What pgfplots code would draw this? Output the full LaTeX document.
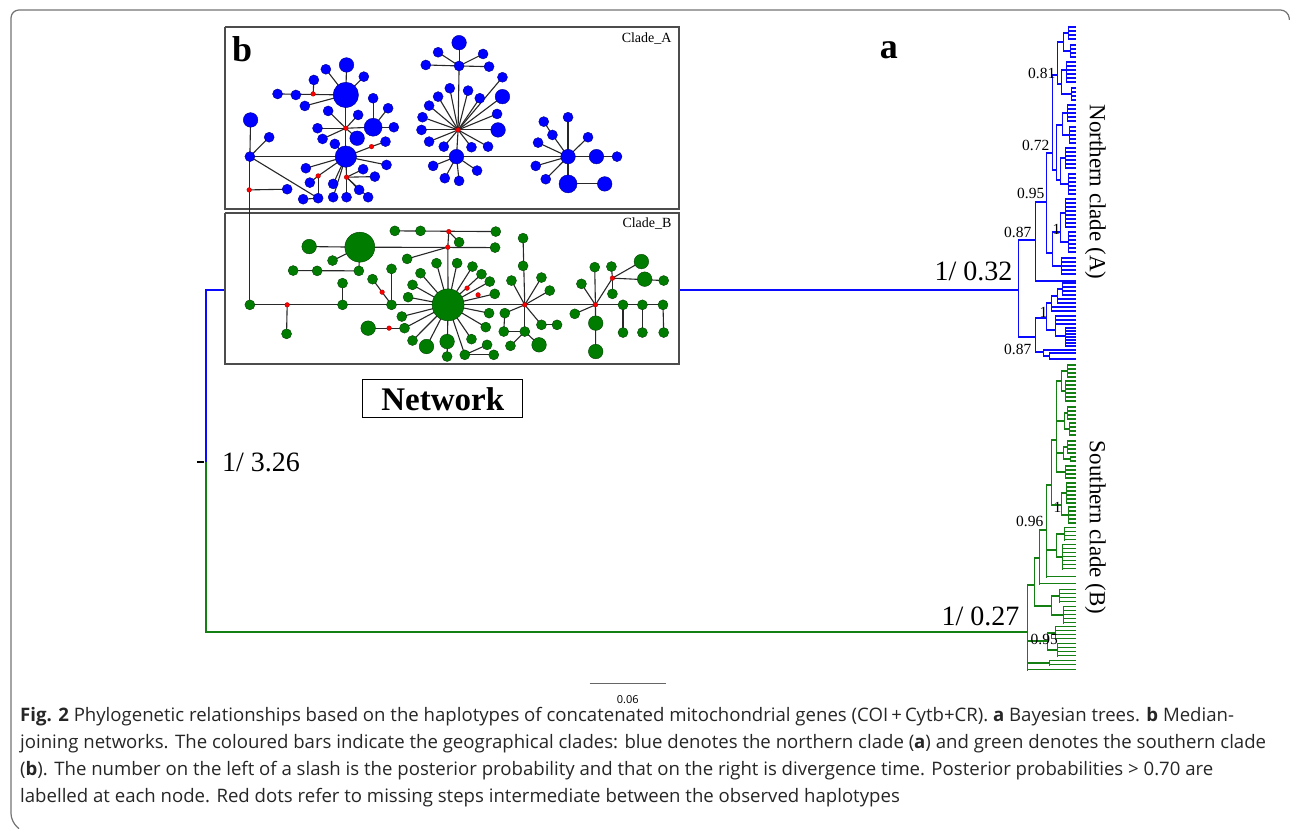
\documentclass[border=0pt]{standalone}
\usepackage{pgfplots}
\pgfplotsset{compat=1.18}
\usepackage{fontspec}
\setmainfont{Liberation Serif}
\newfontfamily\capfont{Open Sans}
\definecolor{tblue}{RGB}{10,10,255}
\definecolor{tgreen}{RGB}{20,128,20}
\definecolor{nblue}{RGB}{0,0,255}
\definecolor{ngreen}{RGB}{0,125,0}
\definecolor{edge}{RGB}{40,40,40}
\pgfplotsset{
 hseg/.style={no markers, quiver={u=\thisrow{x2}-\thisrow{x1}, v=0}},
 vseg/.style={no markers, quiver={u=0, v=\thisrow{y1}-\thisrow{y2}}},
 tseg/.style={no markers, quiver={u=1076-\thisrow{x}, v=0}},
 eseg/.style={no markers, quiver={u=\thisrow{x2}-\thisrow{x1}, v=\thisrow{y1}-\thisrow{y2}}},
 netnode/.style 2 args={scatter, only marks, mark=*,
   scatter/use mapped color={draw=#1, fill=#2},
   visualization depends on={\thisrow{r}\as\rad},
   scatter/@pre marker code/.append style={/tikz/mark size=\rad}},
}
\begin{document}
\begin{tikzpicture}
\begin{axis}[width=1290pt, height=829pt, scale only axis, xmin=0, xmax=1290, ymin=-829, ymax=0, hide axis, clip=false]
\addplot[draw=none] coordinates {(0,0) (1290,-829)};
% outer frame
\addplot[black!55, line width=1.2, rounded corners=8pt] coordinates {(19,-829) (11,-822) (11,-10) (1289,-10) (1290,-20)};
% stems
\addplot[tblue, line width=2] coordinates {(1019,-290) (206,-290) (206,-462)};
\addplot[tgreen, line width=2] coordinates {(206,-462) (206,-632) (1028,-632)};
\addplot[black, line width=1.5] coordinates {(197,-462) (204,-462)};
% ---------- clade A ----------
\addplot[tblue, line width=1.8, line cap=rect, vseg] table[x=x, y expr=-\thisrow{y1}] {
x y1 y2
1019 240 337
1036 202 281
1047 153 253
1053 75 170
1058 42 84
1064 33 51
1069 27 39
1071 45 57
1062 70 94
1067 62 82
1072 88 100
1057 125 180
1063 113 135
1068 105 121
1070 127 143
1061 158 184
1066 148 168
1069 174 194
1053 232 266
1061 213 242
1066 199 227
1069 232 252
1062 258 274
1036 318 352
1047 303 330
1052 296 311
1058 289 303
1063 283 295
1056 316 336
1066 328 346
1044 350 356
1050 353 359
};
\addplot[tblue, line width=1.8, line cap=rect, hseg] table[x=x1, y expr=-\thisrow{y}] {
y x1 x2
240 1019 1036
202 1036 1047
153 1047 1053
75 1053 1058
42 1058 1064
33 1064 1069
51 1064 1071
84 1058 1062
70 1062 1067
94 1062 1072
170 1053 1057
125 1057 1063
113 1063 1068
135 1063 1070
180 1057 1061
158 1061 1066
184 1061 1069
253 1047 1053
232 1053 1061
213 1061 1066
242 1061 1069
266 1053 1062
337 1019 1036
318 1036 1047
303 1047 1052
296 1052 1058
289 1058 1063
330 1047 1056
336 1056 1066
352 1036 1044
356 1044 1050
};
\addplot[tblue, line width=1.5, tseg] table[x=x, y expr=-\thisrow{y}] {
y x
27 1069
31 1069
35 1069
39 1069
45 1071
49 1071
53 1071
57 1071
62 1067
66 1067
70 1067
74 1067
78 1067
82 1067
88 1072
92 1072
96 1072
100 1072
105 1068
109 1068
113 1068
117 1068
121 1068
127 1070
131 1070
135 1070
139 1070
143 1070
148 1066
152 1066
156 1066
160 1066
164 1066
168 1066
174 1069
178 1069
182 1069
186 1069
190 1069
194 1069
199 1066
203 1066
207 1066
211 1066
215 1066
219 1066
223 1066
227 1066
232 1069
236 1069
240 1069
244 1069
248 1069
252 1069
258 1062
262 1062
266 1062
270 1062
274 1062
281 1036
283 1063
287 1063
291 1063
295 1063
299 1058
303 1058
307 1052
311 1052
316 1056
320 1056
324 1056
328 1066
331 1066
334 1066
337 1066
340 1066
343 1066
346 1066
350 1044
353 1050
359 1050
};
% ---------- clade B ----------
\addplot[tgreen, line width=1.8, line cap=rect, vseg] table[x=x, y expr=-\thisrow{y1}] {
x y1 y2
1068 365 377
1066 381 401
1062 371 391
1068 407 419
1070 423 435
1065 413 429
1068 441 453
1071 457 461
1064 447 459
1066 466 478
1057 381 472
1067 483 503
1069 507 523
1062 493 515
1052 440 505
1065 528 540
1063 545 569
1057 534 557
1047 485 577
1040 530 584
1060 590 602
1064 607 623
1052 596 615
1035 558 606
1056 627 639
1058 644 656
1048 633 650
1050 661 665
1028 585 670
};
\addplot[tgreen, line width=1.8, line cap=rect, hseg] table[x=x1, y expr=-\thisrow{y}] {
y x1 x2
371 1062 1068
391 1062 1066
381 1057 1062
413 1065 1068
429 1065 1070
421 1057 1065
447 1064 1068
459 1064 1071
453 1057 1064
472 1057 1066
440 1052 1057
493 1062 1067
515 1062 1069
505 1052 1062
485 1047 1052
534 1057 1065
557 1057 1063
550 1047 1057
530 1040 1047
558 1035 1040
596 1052 1060
615 1052 1064
606 1035 1052
585 1028 1035
633 1048 1056
650 1048 1058
641 1028 1048
663 1028 1050
};
\addplot[tgreen, line width=1.5, tseg] table[x=x, y expr=-\thisrow{y}] {
y x
365 1068
369 1068
373 1068
377 1068
381 1066
385 1066
389 1066
393 1066
397 1066
401 1066
407 1068
411 1068
415 1068
419 1068
423 1070
427 1070
431 1070
435 1070
441 1068
445 1068
449 1068
453 1068
457 1071
461 1071
466 1066
470 1066
474 1066
478 1066
483 1067
487 1067
491 1067
495 1067
499 1067
503 1067
507 1069
511 1069
515 1069
519 1069
523 1069
528 1065
532 1065
536 1065
540 1065
545 1063
549 1063
553 1063
557 1063
561 1063
565 1063
569 1063
577 1047
584 1040
590 1060
594 1060
598 1060
602 1060
607 1064
611 1064
615 1064
619 1064
623 1064
627 1056
631 1056
635 1056
639 1056
644 1058
648 1058
652 1058
656 1058
661 1050
665 1050
670 1028
};
% tree labels
\node[anchor=base east, inner sep=0, font=\fontsize{15.5}{16}\selectfont] at (axis cs:1032,-238) {0.87};
\node[anchor=base east, inner sep=0, font=\fontsize{15.5}{16}\selectfont] at (axis cs:1045,-199) {0.95};
\node[anchor=base east, inner sep=0, font=\fontsize{15.5}{16}\selectfont] at (axis cs:1050,-151) {0.72};
\node[anchor=base east, inner sep=0, font=\fontsize{15.5}{16}\selectfont] at (axis cs:1056,-79) {0.81};
\node[anchor=base east, inner sep=0, font=\fontsize{15.5}{16}\selectfont] at (axis cs:1061,-235) {1};
\node[anchor=base east, inner sep=0, font=\fontsize{15.5}{16}\selectfont] at (axis cs:1032,-355) {0.87};
\node[anchor=base east, inner sep=0, font=\fontsize{15.5}{16}\selectfont] at (axis cs:1048,-318) {1};
\node[anchor=base east, inner sep=0, font=\fontsize{15.5}{16}\selectfont] at (axis cs:1044,-527) {0.96};
\node[anchor=base east, inner sep=0, font=\fontsize{15.5}{16}\selectfont] at (axis cs:1062,-513) {1};
\node[anchor=base west, inner sep=0, font=\fontsize{15.5}{16}\selectfont] at (axis cs:1031,-645) {0.95};
\node[anchor=base west, inner sep=0, font=\fontsize{28}{30}\selectfont] at (axis cs:222,-472) {1/ 3.26};
\node[anchor=base east, inner sep=0, font=\fontsize{28}{30}\selectfont] at (axis cs:1013,-281) {1/ 0.32};
\node[anchor=base east, inner sep=0, font=\fontsize{28}{30}\selectfont] at (axis cs:1020,-626) {1/ 0.27};
\node[anchor=base west, inner sep=0, font=\fontsize{36}{38}\selectfont\bfseries] at (axis cs:880,-59) {a};
\node[rotate=-90, inner sep=0, font=\fontsize{23}{25}\selectfont] at (axis cs:1096,-192) {Northern clade (A)};
\node[rotate=-90, inner sep=0, font=\fontsize{23}{25}\selectfont] at (axis cs:1096,-528) {Southern clade (B)};
% ---------- network boxes ----------
\addplot[fill=white, draw=black!70, line width=1.8] coordinates {(225,-27) (679,-27) (679,-209) (225,-209) (225,-27)};
\addplot[fill=white, draw=black!70, line width=1.8] coordinates {(225,-213) (679,-213) (679,-364) (225,-364) (225,-213)};
\node[anchor=base west, inner sep=0, font=\fontsize{36}{38}\selectfont\bfseries] at (axis cs:232,-62) {b};
\node[anchor=base east, inner sep=0, font=\fontsize{14}{15}\selectfont] at (axis cs:672,-43) {Clade\_A};
\node[anchor=base east, inner sep=0, font=\fontsize{14}{15}\selectfont] at (axis cs:672,-228) {Clade\_B};
% network edges
\addplot[edge, line width=1.1, eseg] table[x=x1, y expr=-\thisrow{y1}] {
x1 y1 x2 y2
250 156.7 617.3 156.7
250 156.7 250 306
250 156.7 250.7 120
250 156.7 269.3 137.3
249.3 190 287.3 189.3
250 156.7 318.3 198.3
303.3 199.3 318.3 198.3
346 156.7 306 168.3
346 156.7 318.3 176
346 156.7 333.3 184
346 156.7 333.3 197.3
346 156.7 346.7 177.3
346 156.7 386.7 165
346 156.7 371.7 146.7
346 156.7 335 144
318.3 176 310 182.7
318.3 176 318.3 198.3
346.7 177.3 346.7 197.3
346.7 177.3 363.3 169.3
346.7 177.3 359.3 190
346.7 177.3 368.3 197.3
346.7 177.3 375 176.7
371.7 146.7 385.7 141.7
346 156.7 346 95
346 128.3 317.7 128.3
346 128.3 322.7 139
346 128.3 328.3 111
346 128.3 358.3 115
346 128.3 357.3 138.3
346 128.3 373.3 127.3
373.3 127.3 373.3 98.3
373.3 127.3 388.3 108.3
373.3 127.3 394 127.3
346 95 346.7 65
346 95 326 69.3
346 95 364 76.7
346 95 277.7 94
346 95 305 106
313.3 94 314 80
458.3 130 459.3 66
459.3 66 459.3 42.7
459.3 66 438.3 52.3
459.3 66 483.3 54
459.3 66 426 65
459.3 66 489.3 66.7
458.3 130 502.7 77.3
458.3 130 502.7 96.7
458.3 130 450 88.3
458.3 130 468.3 90.7
458.3 130 480 98.3
458.3 130 438.3 96.7
458.3 130 429.3 105.7
458.3 130 422.7 117.3
458.3 130 421.7 130
458.3 130 429.3 141.7
458.3 130 444 146.7
458.3 130 456.7 156.7
458.3 130 471.7 147.3
458.3 130 488.3 146.7
458.3 130 498.3 130
458.3 130 497.3 114
456.7 156.7 433.3 166
456.7 156.7 445 178.3
456.7 156.7 459.3 181
456.7 156.7 477.3 170.7
568.3 156.7 568.3 117.3
544 121.7 552.7 135
552.7 135 568.3 156.7
568.3 156.7 588.3 137.3
568.3 156.7 538.3 142.7
568.3 156.7 536 166
568.3 156.7 546 179.3
568.3 156.7 568.3 184
568.3 184 605 184
250 305 664 305
287.3 305 286.7 334
342.7 305 342.7 283.3
391.7 305 391.7 269
391.7 305 372.7 279.3
360 247.3 309.3 246.7
360 247.3 332.7 260.7
360 247.3 359 271
359 271 293.3 270.7
360 247.3 495.3 247.7
448 247.3 407.3 259
448 247.3 449 231.7
395 231 496 231.7
449 231.7 459.3 242.3
448 247.3 448.3 305
448.3 305 436.7 263.3
448.3 305 457.3 263.3
448.3 305 420.7 273.3
448.3 305 472.7 266.7
448.3 305 481.7 274.3
448.3 305 490 281.7
448.3 305 412.7 285
448.3 305 408.3 297.3
448.3 305 495 294
448.3 305 489.3 313.3
448.3 305 402 316.7
448.3 305 404.7 328.3
404.7 328.3 368.3 328.3
448.3 305 412.7 340.7
448.3 305 426.7 346.7
448.3 305 447.3 356.7
448.3 305 465 355
448.3 305 471.7 339.3
448.3 305 486 327.3
465 355 494 355
465 355 487.3 345
525 305 523.3 238.3
525 305 511.7 280.7
525 305 541.7 277.7
525 305 550 290.7
525 305 541.7 325
541.7 325 557.3 325
525 305 525 331.7
525 331.7 504 331.7
525 331.7 510.7 346
525 331.7 539.3 345
525 305 505 313.3
505 313.3 504 331.7
595.7 305 595 267.3
595.7 305 581.7 284
595.7 305 575 314
595.7 305 596 351.7
595.7 305 612.7 278.3
612.7 278.3 611.7 266.7
612.7 278.3 612.7 294
612.7 278.3 641.7 261.7
612.7 278.3 664 280.7
623.3 305 623.3 332.7
642.7 305 642.7 332.7
663.3 305 664 332.7
};
% network nodes: blue
\addplot[netnode={blue!55!black}{nblue}] table[x=x, y expr=-\thisrow{y}] {
x y r
250.7 120 7.3
269.3 137.3 5
250 156.7 5
287.3 189.3 5
303.3 199.3 5
318.3 198.3 5
310 182.7 5
306 168.3 5
346 156.7 10.7
333.3 184 5
333.3 197.3 5
346.7 197.3 5
363.3 169.3 5
375 176.7 5
359.3 190 5
368.3 197.3 5
386.7 165 5
385.7 141.7 5
335 144 5
322.7 139 5
317.7 128.3 5
328.3 111 5
358.3 115 5
357.3 138.3 7.3
373.3 127.3 9
373.3 98.3 5
388.3 108.3 5
394 127.3 5
346 95 12.7
346.7 65 7.3
326 69.3 5
364 76.7 5
314 80 5
296 95 5
277.7 94 5
305 106 5
459.3 42.7 7.3
459.3 66 5
438.3 52.3 5
483.3 54 5
426 65 5
489.3 66.7 5
502.7 77.3 5
502.7 96.7 7.3
450 88.3 5
468.3 90.7 5
480 98.3 5
438.3 96.7 5
429.3 105.7 5
422.7 117.3 5
421.7 130 5
429.3 141.7 5
444 146.7 5
456.7 156.7 7.3
471.7 147.3 5
488.3 146.7 5
498.3 130 7.3
497.3 114 5
433.3 166 5
445 178.3 5
459.3 181 5
477.3 170.7 5
568.3 156.7 7.3
568.3 117.3 5
544 121.7 5
552.7 135 5
588.3 137.3 5
538.3 142.7 5
536 166 5
546 179.3 5
596.7 156.7 7.3
617.3 156.7 5
568.3 184 9
605 184 7.3
};
% network nodes: green
\addplot[netnode={green!25!black}{ngreen}] table[x=x, y expr=-\thisrow{y}] {
x y r
250 305 5
286.7 334 5
342.7 305 5
342.7 283.3 5
391.7 305 5
391.7 269 5
372.7 279.3 5
448.3 305 16
360 247.3 15
309.3 246.7 7.3
332.7 260.7 5
293.3 270.7 5
317.3 271 5
359 271 5
395 231 5
420.7 231 5
496 231.7 5
459.3 242.3 5
495.3 247.7 5
407.3 259 5
436.7 263.3 5
457.3 263.3 5
420.7 273.3 5
472.7 266.7 5
481.7 274.3 5
490 281.7 5
412.7 285 5
408.3 297.3 5
495 294 5
489.3 313.3 5
402 316.7 5
404.7 328.3 5
368.3 328.3 7.3
412.7 340.7 5
426.7 346.7 7.3
447.3 341.7 7.3
447.3 356.7 5
465 355 5
471.7 339.3 5
486 327.3 5
487.3 345 5
494 355 5
523.3 238.3 5
523.3 266 5
511.7 280.7 5
541.7 277.7 5
550 290.7 5
541.7 325 5
557.3 325 5
525 331.7 5
505 313.3 5
504 331.7 5
510.7 346 5
539.3 345 7.3
595 267.3 5
581.7 284 5
575 314 5
596 323.3 7.3
596 351.7 7.3
611.7 266.7 5
612.7 294 5
641.7 261.7 7.3
645 279.3 7.3
664 280.7 5
623.3 305 5
642.7 305 5
663.3 305 5
623.3 332.7 5
642.7 332.7 5
664 332.7 5
};
% red median vectors
\addplot[only marks, mark=*, mark size=2.3, draw=red!70!black, fill=red] table[x=x, y expr=-\thisrow{y}] {
x y
249.3 190
318.3 176
346.7 177.3
371.7 146.7
346 128.3
313.3 94
458.3 130
287.3 305
382.3 292.3
449 231.7
448 247.3
467.3 288.3
478.3 295
389.3 328.3
525 305
595.7 305
612.7 278.3
};
\node[draw=black, line width=1.2, fill=white, minimum width=160pt, minimum height=38pt, inner sep=0, font=\fontsize{33}{35}\selectfont\bfseries] at (axis cs:443,-399) {Network};
% scale bar
\addplot[black!60, line width=1.6] coordinates {(590,-684) (666,-684)};
\node[inner sep=0, font=\capfont\fontsize{11}{12}\selectfont] at (axis cs:628,-700) {0.06};
% caption
\node[anchor=base west, inner sep=0, text=black!85, font=\capfont\fontsize{18.6}{20}\selectfont] at (axis cs:20,-722) {\textbf{Fig. 2} Phylogenetic relationships based on the haplotypes of concatenated mitochondrial genes (COI\,+\,Cytb+CR). \textbf{a} Bayesian trees. \textbf{b} Median-};
\node[anchor=base west, inner sep=0, text=black!85, font=\capfont\fontsize{18.6}{20}\selectfont] at (axis cs:20,-749) {joining networks. The coloured bars indicate the geographical clades: blue denotes the northern clade (\textbf{a}) and green denotes the southern clade};
\node[anchor=base west, inner sep=0, text=black!85, font=\capfont\fontsize{18.6}{20}\selectfont] at (axis cs:20,-776) {(\textbf{b}). The number on the left of a slash is the posterior probability and that on the right is divergence time. Posterior probabilities > 0.70 are};
\node[anchor=base west, inner sep=0, text=black!85, font=\capfont\fontsize{18.6}{20}\selectfont] at (axis cs:20,-803) {labelled at each node. Red dots refer to missing steps intermediate between the observed haplotypes};
\end{axis}
\end{tikzpicture}
\end{document}
